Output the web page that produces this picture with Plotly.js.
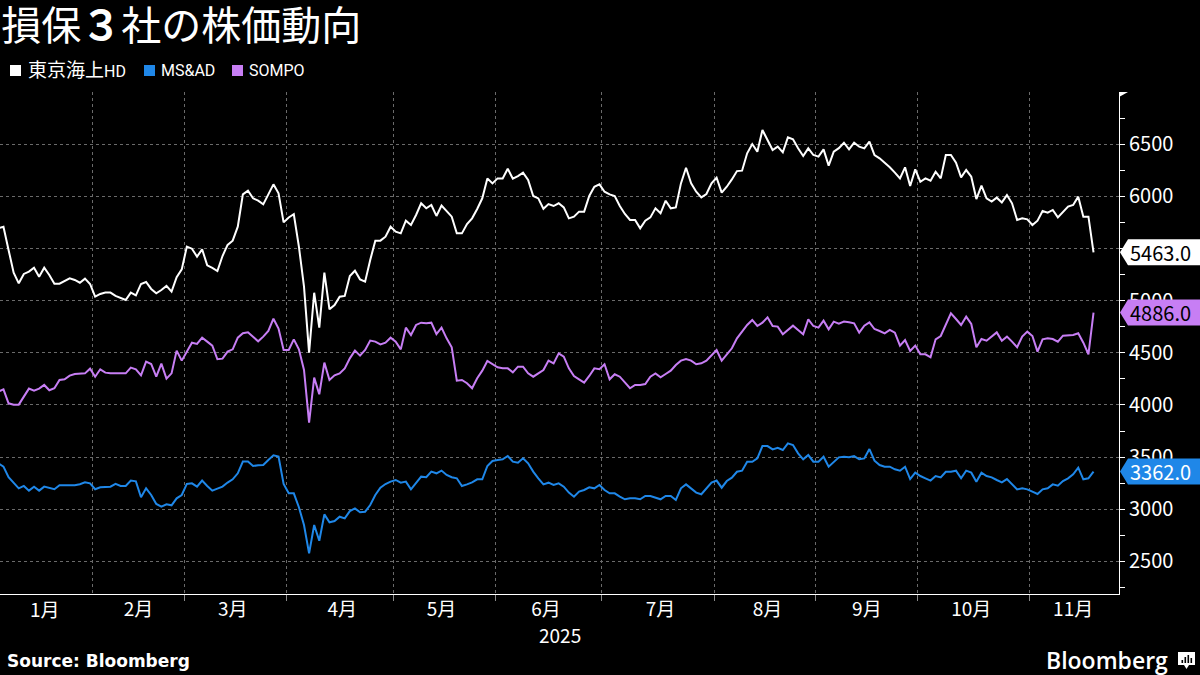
<!DOCTYPE html>
<html>
<head>
<meta charset="utf-8">
<script src="https://cdn.plot.ly/plotly-3.0.1.min.js"></script>
<style>
  html, body { margin: 0; padding: 0; background: #000; }
  #chart { width: 1200px; height: 675px; }
</style>
</head>
<body>
<div id="chart"></div>
<script>
// ---- Data ----
const seriesNames = ["東京海上HD", "MS&AD", "SOMPO"];
const holidays = ["2025-01-13","2025-02-11","2025-02-24","2025-03-20","2025-04-29","2025-05-05",
  "2025-05-06","2025-07-21","2025-08-11","2025-09-15","2025-09-23","2025-10-13","2025-11-03","2025-11-24"];
const firstDay = "2025-01-06";
const lastDay = "2025-11-20";
const firstMonthLabel = "1月";

const tokioMarine = [
  5693,5709,5486,5268,5166,5256,5278,5316,5230,5316,
  5246,5163,5163,5192,5214,5198,5172,5211,5160,5038,
  5064,5077,5077,5045,5022,5006,5077,5051,5160,5179,
  5112,5070,5102,5141,5086,5224,5300,5518,5498,5422,
  5492,5339,5313,5284,5428,5534,5575,5709,6019,6054,
  5981,5958,5923,6022,6115,6029,5750,5797,5828,5518,
  5134,4501,5076,4741,5268,4917,4958,5038,5045,5236,
  5287,5204,5182,5390,5575,5575,5613,5709,5661,5645,
  5766,5725,5821,5933,5885,5917,5812,5911,5853,5805,
  5645,5645,5734,5789,5878,5981,6172,6124,6172,6172,
  6265,6169,6194,6227,6156,6003,5980,5881,5926,5907,
  5933,5894,5789,5805,5853,5853,6003,6092,6115,6044,
  6019,6003,5907,5831,5773,5773,5693,5767,5798,5885,
  5837,5958,5885,5894,6124,6274,6124,6044,5990,6022,
  6124,6178,6035,6092,6162,6242,6246,6412,6501,6428,
  6635,6540,6444,6476,6421,6565,6546,6460,6386,6460,
  6396,6380,6450,6294,6428,6462,6514,6450,6514,6476,
  6460,6524,6396,6364,6322,6278,6227,6172,6278,6099,
  6258,6140,6172,6150,6236,6172,6396,6396,6322,6182,
  6252,6188,5974,6102,5981,5949,5987,5942,6012,5933,
  5773,5789,5779,5725,5766,5859,5843,5869,5798,5853,
  5901,5917,5997,5805,5805,5463
];

const msad = [
  3441,3409,3307,3249,3201,3224,3179,3217,3179,3217,
  3201,3192,3230,3230,3230,3230,3240,3259,3249,3192,
  3211,3211,3217,3243,3224,3224,3275,3268,3115,3201,
  3137,3051,3025,3048,3038,3105,3137,3243,3249,3217,
  3275,3224,3179,3198,3217,3256,3287,3345,3457,3457,
  3415,3422,3425,3473,3517,3505,3243,3153,3153,3020,
  2849,2578,2849,2699,2951,2875,2888,2929,2913,2983,
  3009,2971,2977,3041,3137,3207,3242,3265,3281,3255,
  3265,3191,3249,3313,3307,3361,3345,3371,3329,3307,
  3297,3223,3239,3258,3287,3287,3415,3463,3473,3479,
  3511,3457,3447,3489,3441,3361,3297,3239,3255,3233,
  3249,3217,3160,3121,3169,3185,3210,3201,3233,3185,
  3153,3153,3121,3096,3105,3105,3096,3128,3128,3115,
  3096,3128,3128,3089,3201,3239,3201,3160,3144,3201,
  3255,3275,3207,3271,3303,3360,3370,3456,3456,3488,
  3606,3606,3574,3590,3568,3632,3616,3536,3479,3520,
  3456,3456,3504,3408,3456,3498,3504,3498,3510,3479,
  3488,3577,3466,3424,3408,3408,3383,3370,3408,3290,
  3351,3319,3297,3275,3319,3306,3360,3360,3370,3297,
  3370,3351,3265,3351,3319,3306,3281,3258,3290,3242,
  3191,3201,3191,3169,3147,3191,3201,3239,3226,3271,
  3297,3335,3399,3287,3297,3362
];

const sompo = [
  4128,4150,4016,4003,4003,4080,4157,4137,4157,4192,
  4141,4160,4240,4246,4281,4297,4303,4303,4348,4271,
  4342,4310,4303,4303,4303,4303,4358,4342,4284,4415,
  4393,4271,4396,4252,4303,4521,4425,4514,4597,4585,
  4645,4607,4569,4438,4444,4511,4533,4645,4687,4696,
  4655,4610,4655,4709,4827,4732,4527,4527,4629,4533,
  4335,3830,4262,4102,4406,4240,4284,4303,4351,4447,
  4521,4473,4527,4617,4607,4581,4597,4645,4607,4533,
  4741,4671,4767,4789,4783,4789,4680,4741,4639,4553,
  4233,4240,4208,4160,4256,4329,4422,4390,4361,4351,
  4351,4313,4367,4367,4303,4271,4303,4335,4425,4399,
  4495,4463,4351,4278,4246,4214,4278,4351,4342,4390,
  4246,4294,4271,4214,4160,4192,4192,4201,4271,4303,
  4265,4297,4329,4383,4425,4441,4425,4390,4399,4425,
  4479,4527,4425,4489,4543,4639,4703,4767,4815,4757,
  4789,4840,4757,4751,4677,4719,4760,4719,4677,4821,
  4757,4741,4808,4725,4799,4780,4799,4792,4783,4693,
  4760,4792,4728,4709,4687,4719,4693,4569,4623,4517,
  4569,4486,4486,4457,4629,4661,4776,4878,4824,4767,
  4847,4776,4553,4632,4616,4655,4696,4616,4655,4607,
  4553,4655,4703,4661,4511,4629,4639,4632,4607,4664,
  4664,4671,4687,4597,4486,4886
];

const yTickVals = [2500,3000,3500,4000,4500,5000,5500,6000,6500,7000];
const yTickText = ["2500","3000","3500","4000","4500","5000","5500","6000","6500",""];

// ---- Trading-day calendar (weekdays minus Tokyo exchange holidays) ----
function tradingDays(start, end, hol) {
  const hs = new Set(hol), out = [];
  const e = new Date(end + "T00:00:00Z");
  for (let d = new Date(start + "T00:00:00Z"); d <= e; d.setUTCDate(d.getUTCDate() + 1)) {
    const wd = d.getUTCDay();
    const s = d.toISOString().slice(0, 10);
    if (wd === 0 || wd === 6 || hs.has(s)) continue;
    out.push(s + " 12:00");
  }
  return out;
}
const dates = tradingDays(firstDay, lastDay, holidays);

// ---- Styling ----
const colors = ["#ffffff", "#1f87e8", "#c77ef4"];
const labelText = ["#000000", "#ffffff", "#000000"];
const series = [tokioMarine, msad, sompo];
const FONT = "Noto Sans CJK JP, Noto Sans, sans-serif";
const LFONT = "Roboto, Noto Sans CJK JP, sans-serif";

// plot area in pixels: x 0..1119, y 92..594
const PW = 1119, PT = 92, PB = 594, PH = PB - PT;
const px = v => v / PW;
const py = v => (PB - v) / PH;

const traces = series.map((s, i) => ({
  type: "scatter", mode: "lines", x: dates, y: s, name: seriesNames[i],
  line: { color: colors[i], width: 2 }, hoverinfo: "skip"
}));

const shapes = [];
const annotations = [];

// legend
const legendItems = [
  { sx: 10, tx: 26 }, { sx: 144, tx: 159 }, { sx: 232, tx: 247 }
];
function legendLabel(name) {
  // CJK part drawn a little larger than the Latin part, as in the reference
  return name.replace(/&/g, "&amp;").replace(/([\u3000-\u9fff]+)/g, '<span style="font-size:19px">$1</span>');
}
legendItems.forEach((it, i) => {
  shapes.push({ type: "rect", xref: "paper", yref: "paper",
    x0: px(it.sx), x1: px(it.sx + 11), y0: py(76), y1: py(65),
    fillcolor: colors[i], line: { width: 0 } });
  annotations.push({ xref: "paper", yref: "paper", x: px(it.tx), y: py(70.5),
    xanchor: "left", yanchor: "middle", showarrow: false,
    text: legendLabel(seriesNames[i]),
    font: { family: LFONT, size: 16, color: "#ffffff" } });
});

// last-value tags on the right axis
series.forEach((s, i) => {
  const last = s[s.length - 1];
  shapes.push({ type: "path", xref: "paper", yref: "y", xsizemode: "pixel", ysizemode: "pixel",
    xanchor: 1, yanchor: last, path: "M1,0 L9,13 L82,13 L82,-13 L9,-13 Z",
    fillcolor: colors[i], line: { width: 0 }, layer: "above" });
  annotations.push({ xref: "paper", yref: "y", x: px(1128), y: last, xanchor: "left", yanchor: "middle",
    showarrow: false, text: last.toFixed(1),
    font: { family: FONT, size: 20, color: labelText[i] } });
});

// arrow at top of y axis
shapes.push({ type: "path", xref: "paper", yref: "y", xsizemode: "pixel", ysizemode: "pixel",
  xanchor: 1, yanchor: 7000, path: "M0,-5 L9,0 L0,5 Z", fillcolor: "#ffffff", line: { width: 0 } });

// January label (its period starts before the visible range)
annotations.push({ xref: "paper", yref: "paper", x: px(45), y: py(608), xanchor: "center", yanchor: "middle",
  showarrow: false, text: firstMonthLabel, font: { family: FONT, size: 19, color: "#ffffff" } });
// year label
annotations.push({ xref: "paper", yref: "paper", x: 0.5, y: py(634), xanchor: "center", yanchor: "middle",
  showarrow: false, text: "2025", font: { family: FONT, size: 19, color: "#ffffff" } });
// source
annotations.push({ xref: "paper", yref: "paper", x: px(5), y: py(661), xanchor: "left", yanchor: "middle",
  showarrow: false, text: "<b>Source: Bloomberg</b>", font: { family: "DejaVu Sans, sans-serif", size: 17, color: "#ffffff" } });
// Bloomberg mark
annotations.push({ xref: "paper", yref: "paper", x: px(1170), y: py(660), xanchor: "right", yanchor: "middle",
  showarrow: false, text: "Bloomberg", font: { family: "Open Sans, sans-serif", size: 23, color: "#ffffff", weight: 600 } });
shapes.push({ type: "path", xref: "paper", yref: "paper",
  path: `M${px(1178)},${py(652)} L${px(1195)},${py(652)} L${px(1195)},${py(665)} L${px(1189)},${py(665)} L${px(1186.5)},${py(669)} L${px(1184)},${py(665)} L${px(1178)},${py(665)} Z`,
  fillcolor: "#ffffff", line: { width: 0 } });
[[1181.5, 660], [1184.5, 657], [1187.5, 655], [1190.5, 658]].forEach(b => {
  shapes.push({ type: "rect", xref: "paper", yref: "paper",
    x0: px(b[0]), x1: px(b[0] + 1.6), y0: py(663), y1: py(b[1]),
    fillcolor: "#000000", line: { width: 0 } });
});

const layout = {
  width: 1200, height: 675,
  paper_bgcolor: "#000000", plot_bgcolor: "#000000",
  margin: { l: 0, r: 1200 - PW, t: PT, b: 675 - PB, pad: 0 },
  showlegend: false,
  font: { family: FONT, color: "#ffffff" },
  title: { text: "損保<b>３</b>社の株価動向", x: 0.001, xanchor: "left", xref: "container",
    y: 1 - 26 / 675, yanchor: "middle", yref: "container",
    font: { family: FONT, size: 40, color: "#ffffff" } },
  xaxis: {
    type: "date",
    range: ["2025-01-06 19:40", "2025-11-28 12:00"],
    rangebreaks: [{ bounds: ["sat", "mon"] }, { values: holidays, dvalue: 86400000 }],
    tick0: "2025-01-01", dtick: "M1", tickformat: "%-m月", ticklabelmode: "period",
    ticklabelstandoff: -8,
    showgrid: true, gridcolor: "#6a6a6a", griddash: "dot", gridwidth: 1,
    showline: true, linecolor: "#ffffff", linewidth: 1,
    ticks: "outside", ticklen: 6, tickcolor: "#8a8a8a", tickwidth: 1,
    tickfont: { family: FONT, size: 19, color: "#ffffff" },
    zeroline: false, fixedrange: true
  },
  yaxis: {
    side: "right", range: [2188, 7000],
    tickmode: "array", tickvals: yTickVals, ticktext: yTickText,
    showgrid: true, gridcolor: "#6a6a6a", griddash: "dot", gridwidth: 1,
    showline: true, linecolor: "#ffffff", linewidth: 1,
    ticks: "outside", ticklen: 5, tickcolor: "#ffffff", tickwidth: 1,
    minor: { tickmode: "linear", tick0: 2250, dtick: 250, ticks: "outside", ticklen: 5, tickcolor: "#ffffff", showgrid: false },
    tickfont: { family: FONT, size: 20, color: "#ffffff" },
    zeroline: false, fixedrange: true
  },
  shapes: shapes,
  annotations: annotations
};

Plotly.newPlot("chart", traces, layout, { staticPlot: true, displayModeBar: false });
</script>
</body>
</html>
